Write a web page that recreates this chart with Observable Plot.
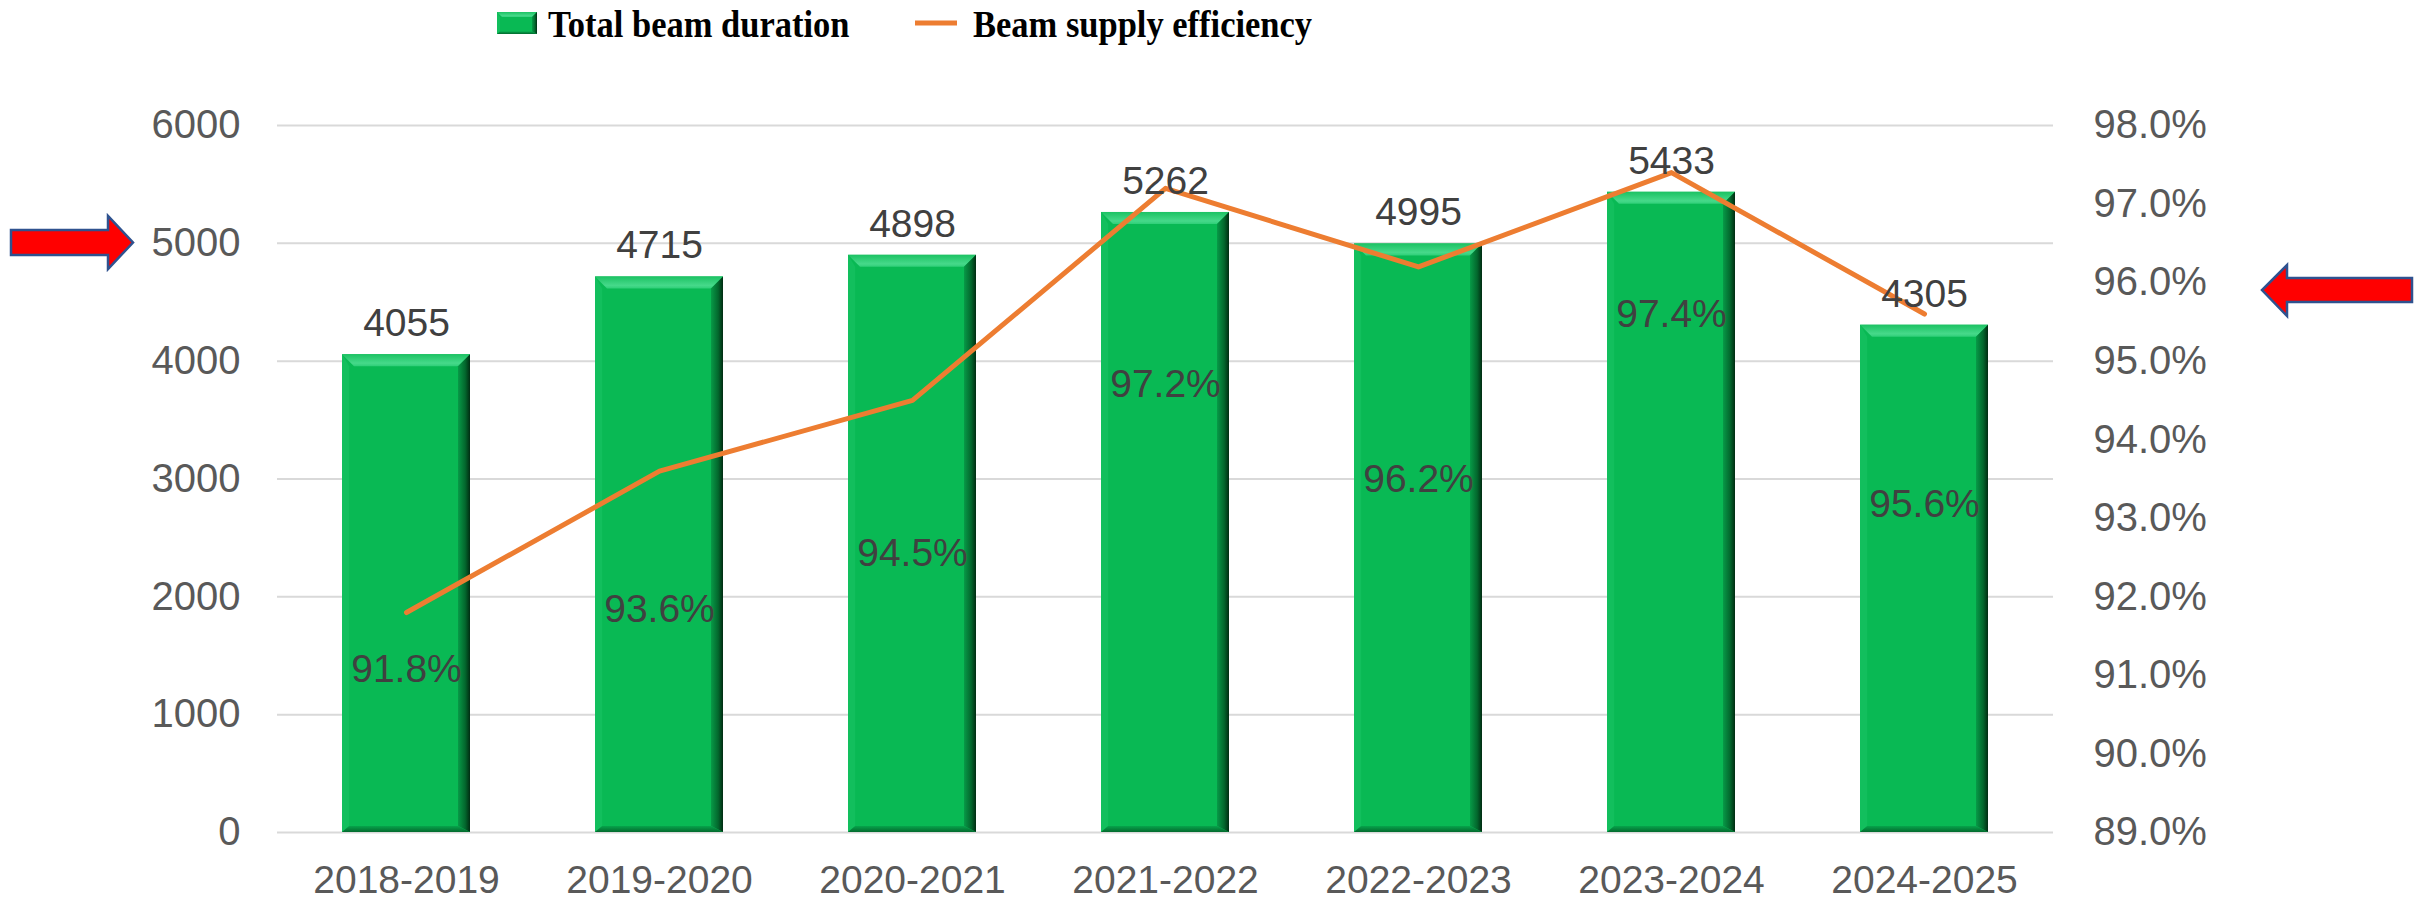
<!DOCTYPE html>
<html>
<head>
<meta charset="utf-8">
<script src="https://cdn.jsdelivr.net/npm/d3@7"></script>
<script src="https://cdn.jsdelivr.net/npm/@observablehq/plot@0.6"></script>
<style>
  html, body { margin: 0; padding: 0; background: #fff; overflow: hidden; }
  #wrap { position: relative; width: 2433px; height: 899px; }
  #legend, #chart svg { display: block; }
  #arrows { position: absolute; left: 0; top: 0; pointer-events: none; }
</style>
</head>
<body>
<div id="wrap">
  <svg id="legend" width="2433" height="46"></svg>
  <div id="chart"></div>
  <svg id="arrows" width="2433" height="899"></svg>
</div>
<script>
// ---- data ----
const categories = ["2018-2019", "2019-2020", "2020-2021", "2021-2022", "2022-2023", "2023-2024", "2024-2025"];
const beamDuration = [4055, 4715, 4898, 5262, 4995, 5433, 4305];
const efficiency = [91.8, 93.6, 94.5, 97.2, 96.2, 97.4, 95.6];
// where each efficiency label sits (right-axis units, %)
const efficiencyLabelAt = [91.08, 91.84, 92.55, 94.70, 93.49, 95.60, 93.17];
const leftTicks = [0, 1000, 2000, 3000, 4000, 5000, 6000];
const rightTicks = [89, 90, 91, 92, 93, 94, 95, 96, 97, 98];
const seriesNames = ["Total beam duration", "Beam supply efficiency"];

// right axis (89%..98%) mapped onto left axis (0..6000)
const rMin = 89, rMax = 98, lMax = 6000;
const toLeft = p => (p - rMin) / (rMax - rMin) * lMax;
const fromLeft = v => v / lMax * (rMax - rMin) + rMin;

const rows = categories.map((c, i) => ({
  cat: c,
  hours: beamDuration[i],
  eff: efficiency[i],
  effY: toLeft(efficiency[i]),
  labY: toLeft(efficiencyLabelAt[i])
}));

const GREEN = "#09b954";
const ORANGE = "#ED7D31";

const chart = Plot.plot({
  width: 2433,
  height: 853,
  marginTop: 79,
  marginBottom: 67,
  marginLeft: 277,
  marginRight: 380,
  style: { fontFamily: "'Liberation Sans', Arial, sans-serif", background: "white", color: "#595959", overflow: "visible" },
  x: { domain: categories, paddingInner: 0.495, paddingOuter: 0.2475, label: null },
  y: { domain: [0, lMax], label: null },
  marks: [
    Plot.ruleY(leftTicks, { stroke: "#d9d9d9", strokeWidth: 2 }),
    Plot.barY(rows, { x: "cat", y: "hours", fill: GREEN }),
    Plot.lineY(rows, { x: "cat", y: "effY", stroke: ORANGE, strokeWidth: 5 }),
    Plot.text(rows, { x: "cat", y: "hours", text: d => String(d.hours), dy: -31, fontSize: 39, fill: "#404040" }),
    Plot.text(rows, { x: "cat", y: "labY", text: d => d.eff.toFixed(1) + "%", fontSize: 39, fill: "#404040" }),
    Plot.axisY(leftTicks, { anchor: "left", tickSize: 0, tickPadding: 37, fontSize: 40, label: null,
      tickFormat: v => String(v) }),
    Plot.axisY(rightTicks.map(toLeft), { anchor: "right", tickSize: 0, tickPadding: 40, fontSize: 40, label: null,
      tickFormat: v => fromLeft(v).toFixed(1) + "%" }),
    Plot.axisX(categories, { tickSize: 0, tickPadding: 33, fontSize: 39, label: null })
  ]
});
document.getElementById("chart").appendChild(chart);

// ---- bevel styling for bars ----
const NS = "http://www.w3.org/2000/svg";
function addDefs(svg) {
  const defs = document.createElementNS(NS, "defs");
  defs.innerHTML = `
    <linearGradient id="bevTop" x1="0" y1="0" x2="0" y2="1">
      <stop offset="0" stop-color="#1cc263"/><stop offset="0.75" stop-color="#46d98a"/><stop offset="1" stop-color="#2fcf78"/>
    </linearGradient>
    <linearGradient id="bevRight" x1="0" y1="0" x2="1" y2="0">
      <stop offset="0" stop-color="#079a47"/><stop offset="0.6" stop-color="#03672d"/><stop offset="1" stop-color="#012c12"/>
    </linearGradient>
    <linearGradient id="bevBottom" x1="0" y1="0" x2="0" y2="1">
      <stop offset="0" stop-color="#07a34b"/><stop offset="1" stop-color="#036a2e"/>
    </linearGradient>`;
  svg.insertBefore(defs, svg.firstChild);
}
function bevel(g, x, y, w, h, b) {
  const poly = (pts, fill) => {
    const p = document.createElementNS(NS, "polygon");
    p.setAttribute("points", pts.map(q => q.join(",")).join(" "));
    p.setAttribute("fill", fill);
    g.appendChild(p);
  };
  poly([[x, y], [x + w, y], [x + w - b, y + b], [x + b, y + b]], "url(#bevTop)");
  poly([[x, y], [x + b * 0.6, y + b], [x + b * 0.6, y + h - b * 0.5], [x, y + h]], "#12bf5d");
  poly([[x + w, y], [x + w, y + h], [x + w - b, y + h - b * 0.5], [x + w - b, y + b]], "url(#bevRight)");
  poly([[x, y + h], [x + w, y + h], [x + w - b, y + h - b * 0.5], [x + b * 0.6, y + h - b * 0.5]], "url(#bevBottom)");
}
addDefs(chart);
chart.querySelectorAll('g[aria-label="bar"] rect').forEach(r => {
  const x = +r.getAttribute("x"), y = +r.getAttribute("y"), w = +r.getAttribute("width"), h = +r.getAttribute("height");
  bevel(r.parentNode, x, y, w, h, 12);
});
// keep text marks on top
chart.querySelectorAll('g[aria-label="text"]').forEach(g => chart.appendChild(g));

// ---- legend ----
const leg = document.getElementById("legend");
addDefs(leg);
function legendText(x, str) {
  const t = document.createElementNS(NS, "text");
  t.setAttribute("transform", `translate(${x},37) scale(1,1.1)`);
  t.setAttribute("style", "font-family:'Liberation Serif','Times New Roman',serif;font-weight:bold;font-size:34.5px;fill:#000");
  t.textContent = str;
  leg.appendChild(t);
}
(function () {
  const g = document.createElementNS(NS, "g");
  leg.appendChild(g);
  const r = document.createElementNS(NS, "rect");
  r.setAttribute("x", 497); r.setAttribute("y", 12); r.setAttribute("width", 40); r.setAttribute("height", 22);
  r.setAttribute("fill", GREEN);
  g.appendChild(r);
  bevel(g, 497, 12, 40, 22, 5);
  legendText(548, seriesNames[0]);
  const l = document.createElementNS(NS, "line");
  l.setAttribute("x1", 915); l.setAttribute("x2", 957); l.setAttribute("y1", 23); l.setAttribute("y2", 23);
  l.setAttribute("stroke", ORANGE); l.setAttribute("stroke-width", 5);
  leg.appendChild(l);
  legendText(973, seriesNames[1]);
})();

// ---- decorative arrows ----
const arr = document.getElementById("arrows");
function arrow(pts) {
  const p = document.createElementNS(NS, "polygon");
  p.setAttribute("points", pts.map(q => q.join(",")).join(" "));
  p.setAttribute("fill", "#ff0000");
  p.setAttribute("stroke", "#2f528f");
  p.setAttribute("stroke-width", 2.5);
  arr.appendChild(p);
}
arrow([[11, 230], [108, 230], [108, 216], [133, 242.5], [108, 269], [108, 255], [11, 255]]);
arrow([[2412, 278], [2287, 278], [2287, 265], [2262, 290], [2287, 316], [2287, 302], [2412, 302]]);
</script>
</body>
</html>
